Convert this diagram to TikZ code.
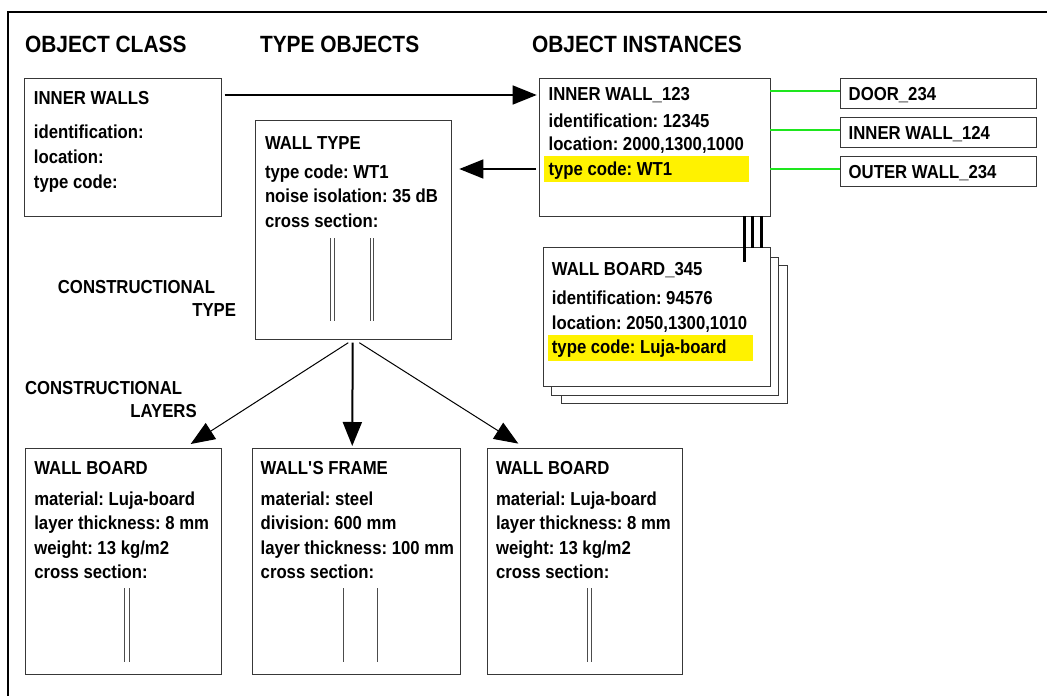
\documentclass[tikz,border=0pt]{standalone}
\usepackage{fontspec}
\newfontfamily\lsans[FakeStretch=0.89]{Liberation Sans}
\usetikzlibrary{arrows.meta,calc}
\newcommand\bodyf{\lsans\bfseries\frenchspacing\fontsize{18.8}{22}\selectfont}
\newcommand\headf{\lsans\bfseries\frenchspacing\fontsize{23.5}{27}\selectfont}
\newcommand\tl[4][]{\node[txt,#1] (#2) at (#3) {#4};}
\begin{document}
\begin{tikzpicture}[x=1pt,y=-1pt,
  box/.style={draw=black!78, line width=1pt, fill=white, inner sep=0pt, outer sep=0pt, anchor=north west},
  txt/.style={inner sep=0pt, outer sep=0pt, anchor=base west, font=\bodyf},
  hdr/.style={inner sep=0pt, outer sep=0pt, anchor=base west, font=\headf},
  arr/.style={-{Triangle[length=24pt,width=19pt]}, line width=1.4pt},
  gline/.style={draw={rgb,255:red,30;green,230;blue,30}, line width=2pt},
  xsec/.style={draw=black!70, line width=0.8pt},
  hl/.style={fill=yellow},
  bar/.style={line width=2.6pt, draw=black}]
\useasboundingbox (0,0) rectangle (1047,696);
\fill[white] (0,0) rectangle (1047,696);
% frame
\draw[line width=2pt] (8,696) -- (8,12) -- (1047,12);
% headers
\node[hdr] (h1) at (25,52.5) {OBJECT CLASS};
\node[hdr] (h2) at (260,52.5) {TYPE OBJECTS};
\node[hdr] (h3) at (532,52.5) {OBJECT INSTANCES};
% boxes
\node[box, minimum width=196.7pt, minimum height=137.7pt] (cls) at (24.8,78.3) {};
\node[box, minimum width=231.1pt, minimum height=137.7pt] (inst) at (539.3,78.3) {};
\node[box, minimum width=196pt, minimum height=218.3pt] (wt) at (255.7,120.7) {};
\node[box, minimum width=226.9pt, minimum height=138.3pt] (card3) at (561,265) {};
\node[box, minimum width=226.9pt, minimum height=138.3pt] (card2) at (551.9,257.3) {};
\node[box, minimum width=226.9pt, minimum height=138.3pt] (card1) at (543.5,247.7) {};
\node[box, minimum width=196.3pt, minimum height=30pt] (door) at (840.3,78.3) {};
\node[box, minimum width=196.3pt, minimum height=30pt] (iw) at (840.3,117.3) {};
\node[box, minimum width=196.3pt, minimum height=30pt] (ow) at (840.3,156.7) {};
\node[box, minimum width=196pt, minimum height=226pt] (b1) at (25,448.3) {};
\node[box, minimum width=207.7pt, minimum height=226pt] (b2) at (252.3,448.3) {};
\node[box, minimum width=194.6pt, minimum height=226pt] (b3) at (487.7,448.3) {};
% highlights
\fill[hl] (544.2,156) rectangle (749.2,181.7);
\fill[hl] (547.9,335) rectangle (752.9,361);
% class box text
\tl{c0}{34,104.8}{INNER WALLS}
\tl{c1}{34,138.2}{identification:}
\tl{c2}{34,163.2}{location:}
\tl{c3}{34,188.2}{type code:}
% instance text
\tl{i0}{548.6,100.8}{INNER WALL\_123}
\tl{i1}{548.6,127.2}{identification: 12345}
\tl{i2}{548.6,150.5}{location: 2000,1300,1000}
\tl{i3}{548.6,175.2}{type code: WT1}
% wall type text
\tl{w0}{265,149.2}{WALL TYPE}
\tl{w1}{265,178.2}{type code: WT1}
\tl{w2}{265,202.5}{noise isolation: 35 dB}
\tl{w3}{265,227.2}{cross section:}
% card text
\tl{k0}{551.9,275.8}{WALL BOARD\_345}
\tl{k1}{551.9,304.8}{identification: 94576}
\tl{k2}{551.9,329.8}{location: 2050,1300,1010}
\tl{k3}{551.9,353.8}{type code: Luja-board}
% related objects
\tl{d0}{848.7,100.8}{DOOR\_234}
\tl{d1}{848.7,139.2}{INNER WALL\_124}
\tl{d2}{848.7,178.2}{OUTER WALL\_234}
% side labels
\tl[anchor=base east]{ct1}{215,293}{CONSTRUCTIONAL}
\tl[anchor=base east]{ct2}{236,316.8}{TYPE}
\tl{cl1}{25,394.5}{CONSTRUCTIONAL}
\tl[anchor=base east]{cl2}{196.7,417}{LAYERS}
% bottom boxes text
\tl{p0}{34.3,474.8}{WALL BOARD}
\tl{p1}{34.3,505.8}{material: Luja-board}
\tl{p2}{34.3,529.8}{layer thickness: 8 mm}
\tl{p3}{34.3,554.8}{weight: 13 kg/m2}
\tl{p4}{34.3,578.8}{cross section:}
\tl{q0}{260.7,474.8}{WALL\textquotesingle S FRAME}
\tl{q1}{260.7,505.8}{material: steel}
\tl{q2}{260.7,529.8}{division: 600 mm}
\tl{q3}{260.7,554.8}{layer thickness: 100 mm}
\tl{q4}{260.7,578.8}{cross section:}
\tl{r0}{496,474.8}{WALL BOARD}
\tl{r1}{496,505.8}{material: Luja-board}
\tl{r2}{496,529.8}{layer thickness: 8 mm}
\tl{r3}{496,554.8}{weight: 13 kg/m2}
\tl{r4}{496,578.8}{cross section:}
% cross sections
\foreach \xx in {330.7,334,370,373.3} \draw[xsec] (\xx,238.3) -- (\xx,320.7);
\foreach \xx in {124.7,129.3,343.3,377.7,587.7,591} \draw[xsec] (\xx,588.3) -- (\xx,661.7);
% connectors
\draw[arr] ($(cls.north east)+(3,16.7)$) -- ($(inst.north west)+(-2.6,16.7)$);
\draw[arr] ($(inst.north west)+(-3.3,90.7)$) -- ($(wt.north east)+(7.6,48.3)$);
\draw[arr, line width=1pt] ($(wt.south)+(-5.4,3.7)$) -- ($(b1.north east)+(-30.3,-4.3)$);
\draw[arr, line width=2pt] ($(wt.south)+(-1,3.7)$) -- ($(b2.north)+(-3.9,-2.3)$);
\draw[arr, line width=1pt] ($(wt.south)+(5.6,3.7)$) -- ($(b3.north west)+(30.6,-4.7)$);
% green relations
\coordinate (g1) at ($(door.west)+(0,-2.6)$);
\coordinate (g2) at ($(iw.west)+(0,-2.3)$);
\coordinate (g3) at ($(ow.west)+(0,-2.7)$);
\draw[gline] (inst.east |- g1) -- (g1);
\draw[gline] (inst.east |- g2) -- (g2);
\draw[gline] (inst.east |- g3) -- (g3);
% bars to wall boards
\coordinate (v1) at ($(inst.south west)+(205.2,0)$);
\coordinate (v2) at ($(inst.south west)+(213.3,0)$);
\coordinate (v3) at ($(inst.south west)+(222,0)$);
\draw[bar] (v1) -- ($(v1 |- card1.north)+(0,14)$);
\draw[bar] (v2) -- (v2 |- card1.north);
\draw[bar] (v3) -- (v3 |- card1.north);
\end{tikzpicture}
\end{document}
